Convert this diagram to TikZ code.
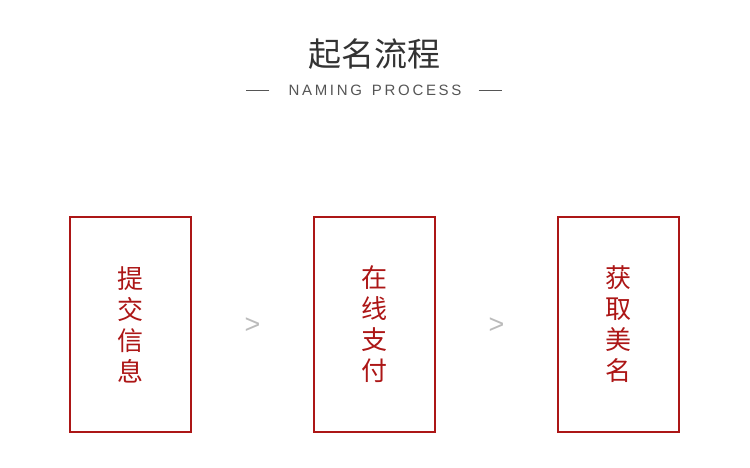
\documentclass[tikz,border=0pt]{standalone}
\usepackage{fontspec}
\setmainfont{Liberation Sans}
\newfontfamily\cjk{Noto Sans CJK SC}
\usetikzlibrary{positioning}
\definecolor{namered}{RGB}{172,22,22}
\definecolor{titlegray}{RGB}{51,51,51}
\definecolor{subgray}{RGB}{85,85,85}
\definecolor{sepgray}{RGB}{187,187,187}

\begin{document}
\begin{tikzpicture}[x=1pt, y=-1pt,
    stepbox/.style={draw=namered, line width=1.4pt, minimum width=121pt, minimum height=215pt,
      inner sep=0pt, text=namered, align=center, font=\cjk\fontsize{26}{31}\selectfont},
    sep/.style={text=sepgray, inner sep=0pt, font=\fontsize{27}{27}\selectfont}]
    \useasboundingbox (0,0) rectangle (750,468);
    \node[text=titlegray, inner sep=0pt, font=\cjk\fontsize{33}{33}\selectfont] (title) at (374,54) {起名流程};
    \node[text=subgray, inner sep=0pt, font=\fontsize{15}{15}\addfontfeature{LetterSpace=18}\selectfont] (sub) at (375,90) {NAMING\hspace{3pt} PROCESS};
    \draw[subgray, line width=0.8pt] ([xshift=-19pt]sub.west) -- ++(-23,0);
    \draw[subgray, line width=0.8pt] ([xshift=17pt]sub.east) -- ++(23,0);
    % the three steps
    \node[stepbox] (submit) at (130.5,324.5) {提\\交\\信\\息};
    \node[stepbox] (pay) at (374.5,324.5) {在\\线\\支\\付};
    \node[stepbox] (get) at (618.5,324.5) {获\\取\\美\\名};
    \node[sep] (sepa) at (252.5,326) {>};
    \node[sep] (sepb) at (496.5,326) {>};
  \end{tikzpicture}
\end{document}
